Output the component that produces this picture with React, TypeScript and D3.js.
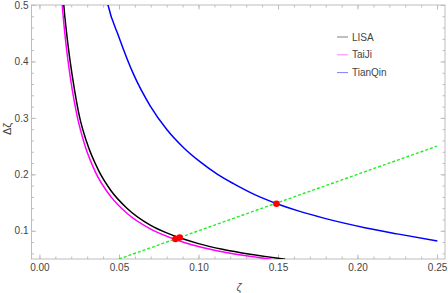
import React, { useEffect, useRef } from 'react';
import * as d3 from 'd3';

// readings from the reference: [zeta, delta zeta]
const lisaPoints: [number, number][] = [
  [0.0148, 0.52], [0.0153, 0.5], [0.0172, 0.447], [0.0193, 0.4], [0.0222, 0.347],
  [0.0251, 0.303], [0.0296, 0.258], [0.0373, 0.206], [0.045, 0.171], [0.055, 0.14],
  [0.0697, 0.11], [0.08, 0.0962], [0.0882, 0.0875], [0.1, 0.0772], [0.115, 0.0672],
  [0.1325, 0.0583], [0.1545, 0.0497],
];
const taijiPoints: [number, number][] = [
  [0.0137, 0.525], [0.0142, 0.505], [0.0162, 0.443], [0.018, 0.4], [0.0206, 0.35],
  [0.0237, 0.303], [0.0285, 0.252], [0.0352, 0.204], [0.045, 0.16], [0.055, 0.131],
  [0.0697, 0.1033], [0.0855, 0.0845], [0.1, 0.0722], [0.115, 0.0628], [0.13, 0.0556],
  [0.146, 0.0495],
];
const tianqinPoints: [number, number][] = [
  [0.0418, 0.517], [0.0431, 0.5], [0.05, 0.443], [0.0592, 0.377], [0.0697, 0.321],
  [0.0802, 0.279], [0.09, 0.249], [0.1011, 0.222], [0.112, 0.2], [0.122, 0.1835],
  [0.135, 0.1645], [0.1493, 0.148], [0.1627, 0.1352], [0.18, 0.1215], [0.2046, 0.1055],
  [0.225, 0.0945], [0.2502, 0.082],
];
const diagonal: [number, number][] = [[0.05, 0.05], [0.25, 0.25]];
const crossings: [number, number][] = [[0.0855, 0.0855], [0.0882, 0.0882], [0.149, 0.148]];

const seriesNames = ['LISA', 'TaiJi', 'TianQin'];
const seriesColors = ['#000000', '#ff00ff', '#0000ff'];
const xTicks = [0, 0.05, 0.1, 0.15, 0.2, 0.25];
const yTicks = [0.1, 0.2, 0.3, 0.4, 0.5];

const width = 448;
const height = 293;

const App: React.FC = () => {
  const svgRef = useRef<SVGSVGElement>(null);

  useEffect(() => {
    if (!svgRef.current) return;
    const svg = d3.select(svgRef.current);
    svg.selectAll('*').remove();

    const x = d3.scaleLinear().domain([-0.005, 0.255]).range([31.5, 445]);
    const y = d3.scaleLinear().domain([0.05, 0.5]).range([259, 5]);
    const frameColor = '#bdbdbd';
    const labelColor = '#444';
    const font = '"Liberation Sans", Arial, sans-serif';

    svg.append('defs').append('clipPath').attr('id', 'plotclip')
      .append('rect')
      .attr('x', x.range()[0]).attr('y', y.range()[1])
      .attr('width', x.range()[1] - x.range()[0])
      .attr('height', y.range()[0] - y.range()[1]);

    const xMinor = d3.range(0, 0.2551, 0.01);
    const yMinor = d3.range(0.06, 0.5001, 0.02);

    // frame axes, ticks point inward
    const addAxis = (axis: d3.Axis<d3.NumberValue>, tx: number, ty: number, labels: boolean) => {
      const g = svg.append('g').attr('transform', `translate(${tx},${ty})`).call(axis);
      g.select('.domain').remove();
      g.selectAll('line').attr('stroke', frameColor);
      g.selectAll('text').style('font-family', font).style('font-size', '10px').attr('fill', labelColor);
      if (!labels) g.selectAll('text').remove();
      return g;
    };
    const bottom = y.range()[0];
    const top = y.range()[1];
    const left = x.range()[0];
    const right = x.range()[1];

    addAxis(d3.axisBottom(x).tickValues(xMinor).tickSize(-2.5).tickFormat(() => ''), 0, bottom, false);
    addAxis(d3.axisBottom(x).tickValues(xTicks).tickSize(-4.5).tickPadding(5).tickFormat(d3.format('.2f')), 0, bottom, true);
    addAxis(d3.axisTop(x).tickValues(xMinor).tickSize(-2.5), 0, top, false);
    addAxis(d3.axisTop(x).tickValues(xTicks).tickSize(-4.5), 0, top, false);
    addAxis(d3.axisLeft(y).tickValues(yMinor).tickSize(-2.5).tickFormat(() => ''), left, 0, false);
    addAxis(d3.axisLeft(y).tickValues(yTicks).tickSize(-4.5).tickPadding(3).tickFormat(d3.format('.1f')), left, 0, true);
    addAxis(d3.axisRight(y).tickValues(yMinor).tickSize(-2.5), right, 0, false);
    addAxis(d3.axisRight(y).tickValues(yTicks).tickSize(-4.5), right, 0, false);

    svg.append('rect')
      .attr('x', left).attr('y', top)
      .attr('width', right - left).attr('height', bottom - top)
      .attr('fill', 'none').attr('stroke', frameColor).attr('stroke-width', 1);

    const plot = svg.append('g').attr('clip-path', 'url(#plotclip)');
    const line = d3.line<[number, number]>()
      .x(d => x(d[0])).y(d => y(d[1]))
      .curve(d3.curveMonotoneX);

    [lisaPoints, taijiPoints, tianqinPoints].forEach((pts, i) => {
      plot.append('path')
        .datum(pts)
        .attr('d', line)
        .attr('fill', 'none')
        .attr('stroke', seriesColors[i])
        .attr('stroke-width', 1.5);
    });

    plot.append('path')
      .datum(diagonal)
      .attr('d', d3.line<[number, number]>().x(d => x(d[0])).y(d => y(d[1])))
      .attr('fill', 'none')
      .attr('stroke', '#22ee22')
      .attr('stroke-width', 1.4)
      .attr('stroke-dasharray', '3,2');

    plot.selectAll('.dot')
      .data(crossings)
      .enter().append('circle')
      .attr('cx', d => x(d[0]))
      .attr('cy', d => y(d[1]))
      .attr('r', 3.3)
      .attr('fill', '#ff0000');

    // legend
    const legend = svg.append('g').attr('transform', 'translate(337, 37)');
    seriesNames.forEach((name, i) => {
      legend.append('line')
        .attr('x1', 0).attr('x2', 11)
        .attr('y1', i * 17.8).attr('y2', i * 17.8)
        .attr('stroke', seriesColors[i])
        .attr('stroke-opacity', 0.5)
        .attr('stroke-width', 1);
      legend.append('text')
        .attr('x', 15).attr('y', i * 17.8 + 3.5)
        .style('font-family', font).style('font-size', '10px')
        .attr('fill', labelColor)
        .text(name);
    });

    // axis titles
    svg.append('text')
      .attr('transform', `translate(11, ${(top + bottom) / 2 - 3}) rotate(-90)`)
      .style('text-anchor', 'middle')
      .style('font-family', font).style('font-size', '11px')
      .attr('fill', labelColor)
      .text('Δζ');
    svg.append('text')
      .attr('x', 239).attr('y', 291)
      .style('text-anchor', 'middle')
      .style('font-family', font).style('font-size', '11px')
      .style('font-style', 'italic')
      .attr('fill', labelColor)
      .text('ζ');
  }, []);

  return (
    <svg
      ref={svgRef}
      width={width}
      height={height}
      style={{ position: 'absolute', left: 0, top: 0, background: '#fff' }}
    />
  );
};

export default App;
